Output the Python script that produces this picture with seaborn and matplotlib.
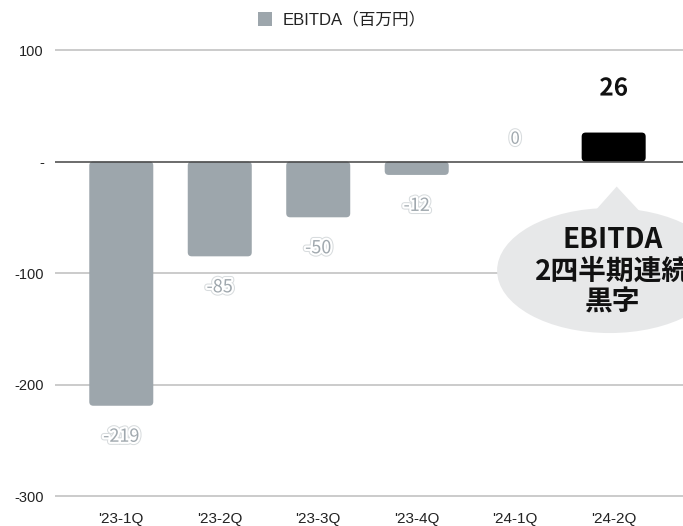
import matplotlib
matplotlib.use("Agg")
import matplotlib.pyplot as plt
import matplotlib.patheffects as pe
from matplotlib.patches import FancyBboxPatch, Ellipse, Polygon, Rectangle
import seaborn as sns
import pandas as pd

quarters = ["'23-1Q", "'23-2Q", "'23-3Q", "'23-4Q", "'24-1Q", "'24-2Q"]
ebitda = [-219, -85, -50, -12, 0, 26]
bar_colors = ["#9da6ac", "#9da6ac", "#9da6ac", "#9da6ac", "#9da6ac", "#000000"]
y_ticks = [100, 0, -100, -200, -300]
y_tick_labels = ["100", "-", "-100", "-200", "-300"]
legend_label = "EBITDA（百万円）"
callout_text = "EBITDA\n2四半期連続\n黒字"

df = pd.DataFrame({"quarter": quarters, "ebitda": ebitda})

sns.set_theme(style="white")
plt.rcParams["font.family"] = ["Liberation Sans", "Noto Sans CJK JP"]

W, H = 683, 526
fig = plt.figure(figsize=(W / 100, H / 100), dpi=100)
ax = fig.add_axes([55 / W, (H - 505) / H, 1 - 55 / W, 465 / H])

sns.barplot(data=df, x="quarter", y="ebitda", hue="quarter",
            palette=bar_colors, legend=False, width=0.65, ax=ax,
            saturation=1, zorder=3)

ax.set_xlim(-0.673, 5.704)
ax.set_ylim(-308, 109)

# swap plain rectangles for slightly rounded ones
px_x = 98.0
px_y = 465 / (109 + 308)
for patch in list(ax.patches):
    x, y = patch.get_x(), patch.get_y()
    w, h = patch.get_width(), patch.get_height()
    fc = patch.get_facecolor()
    patch.remove()
    if abs(h) < 1e-9:
        continue
    r = 4 / px_x
    fb = FancyBboxPatch((x, min(y, y + h)), w, abs(h),
                        boxstyle=f"round,pad=0,rounding_size={r}",
                        mutation_aspect=px_x / px_y,
                        facecolor=fc, edgecolor="none", zorder=3)
    ax.add_patch(fb)

# gridlines
for v in y_ticks:
    if v == 0:
        ax.axhline(v, color="#444444", lw=1.1, zorder=4)
    else:
        ax.axhline(v, color="#bdbdbd", lw=1.1, zorder=1)

ax.set_yticks(y_ticks)
ax.set_yticklabels(y_tick_labels, fontsize=10.5, color="#222222")
ax.tick_params(axis="y", length=0, pad=8)
ax.tick_params(axis="x", length=0, pad=5, labelsize=11, labelcolor="#222222")
ax.set_xlabel("")
ax.set_ylabel("")
for s in ax.spines.values():
    s.set_visible(False)

# value labels
halo = [pe.withStroke(linewidth=4.5, foreground="#d8dcde"),
        pe.withStroke(linewidth=3, foreground="white")]
for i, v in enumerate(ebitda):
    if i == len(ebitda) - 1:
        ax.text(i, v + 44 / px_y, f"{v}", ha="center", va="center",
                fontsize=17.5, fontweight="bold", color="#111111",
                family=["Noto Sans CJK JP"],
                path_effects=[pe.withStroke(linewidth=3, foreground="white")],
                zorder=6)
    elif v == 0:
        ax.text(i, 20, f"{v}", ha="center", va="center", fontsize=12,
                color="#a0a8ae", family=["Noto Sans CJK JP"],
                path_effects=halo, zorder=6)
    else:
        ax.text(i, v - 31 / px_y, f"{v}", ha="center", va="center",
                fontsize=13, color="#a0a8ae", family=["Noto Sans CJK JP"],
                path_effects=halo, zorder=6)

# speech-bubble callout
cx = 5 + (610 - 614) / px_x
cy = -(270 - 161) / px_y
ell = Ellipse((cx, cy), 224 / px_x, 125 / px_y, facecolor="#e7e8e9",
              edgecolor="none", zorder=5)
ax.add_patch(ell)
tip = Polygon([(5 + (594 - 614) / px_x, -(212 - 161) / px_y),
               (5 + (617 - 614) / px_x, -(186 - 161) / px_y),
               (5 + (641 - 614) / px_x, -(212 - 161) / px_y)],
              closed=True, facecolor="#e7e8e9", edgecolor="none", zorder=5)
ax.add_patch(tip)
ax.text(5 + (613 - 614) / px_x, -(271 - 161) / px_y, callout_text,
        ha="center", va="center", fontsize=20, fontweight="bold",
        color="#111111", family=["Noto Sans CJK JP"], linespacing=1.15,
        zorder=6)

# legend
fig.patches.append(Rectangle((258 / W, 1 - 26 / H), 14 / W, 14 / H,
                             transform=fig.transFigure, facecolor="#9da6ac",
                             edgecolor="none"))
fig.text(283 / W, 1 - 19 / H, legend_label, ha="left", va="center",
         fontsize=12, color="#222222")

fig.savefig("out.png", dpi=100)
